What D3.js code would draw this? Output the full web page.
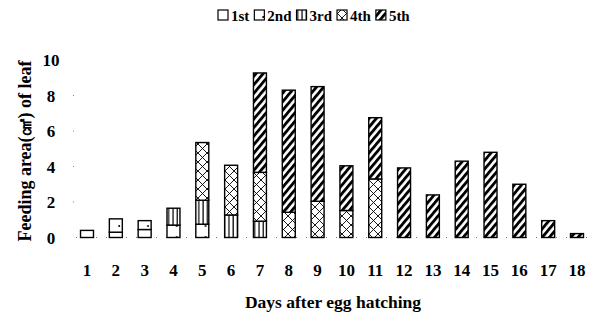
<!DOCTYPE html>
<html lang="en">
<head>
<meta charset="UTF-8" />
<script src="https://d3js.org/d3.v7.min.js"></script>
<title>Feeding area</title>
<style>
  body { margin: 0; background: #fff; }
  text { font-family: "Liberation Serif", "Times New Roman", serif; font-weight: bold; fill: #000; }
</style>
</head>
<body>
<svg id="chart" width="594" height="318"></svg>
<script>
// days after hatching and leaf area eaten by each instar (cm2)
var days = ["1","2","3","4","5","6","7","8","9","10","11","12","13","14","15","16","17","18"];
var first  = [0.4, 0.3, 0.45, 0, 0, 0, 0, 0, 0, 0, 0, 0, 0, 0, 0, 0, 0, 0];
var second = [0, 0.75, 0.5, 0.7, 0.75, 0, 0, 0, 0, 0, 0, 0, 0, 0, 0, 0, 0, 0];
var third  = [0, 0, 0, 0.95, 1.35, 1.27, 0.92, 0, 0, 0, 0, 0, 0, 0, 0, 0, 0, 0];
var fourth = [0, 0, 0, 0, 3.25, 2.8, 2.75, 1.42, 2.04, 1.52, 3.3, 0, 0, 0, 0, 0, 0, 0];
var fifth  = [0, 0, 0, 0, 0, 0, 5.6, 6.88, 6.46, 2.52, 3.45, 3.92, 2.4, 4.3, 4.8, 3.0, 0.95, 0.22];
var instars = ["1st", "2nd", "3rd", "4th", "5th"];
var yTicks = [0, 2, 4, 6, 8, 10];

var svg = d3.select("#chart");
var defs = svg.append("defs");

// fill patterns, one per instar
var p2 = defs.append("pattern").attr("id", "pat2nd").attr("patternUnits", "userSpaceOnUse")
  .attr("width", 14.4).attr("height", 11);
p2.append("rect").attr("width", 14.4).attr("height", 11).attr("fill", "#fff");
p2.append("circle").attr("cx", 4).attr("cy", 6).attr("r", 1).attr("fill", "#000");

var p3 = defs.append("pattern").attr("id", "pat3rd").attr("patternUnits", "userSpaceOnUse")
  .attr("width", 4.3).attr("height", 10);
p3.append("rect").attr("width", 4.3).attr("height", 10).attr("fill", "#fff");
p3.append("line").attr("x1", 1).attr("x2", 1).attr("y1", 0).attr("y2", 10)
  .attr("stroke", "#000").attr("stroke-width", 1.2);

var p4 = defs.append("pattern").attr("id", "pat4th").attr("patternUnits", "userSpaceOnUse")
  .attr("width", 9).attr("height", 9);
p4.append("rect").attr("width", 9).attr("height", 9).attr("fill", "#fff");
p4.append("path").attr("d", "M0,0L9,9M9,0L0,9").attr("stroke", "#000").attr("stroke-width", 0.9);

var p5 = defs.append("pattern").attr("id", "pat5th").attr("patternUnits", "userSpaceOnUse")
  .attr("width", 5.5).attr("height", 10).attr("patternTransform", "rotate(40)");
p5.append("rect").attr("width", 5.5).attr("height", 10).attr("fill", "#fff");
p5.append("line").attr("x1", 1.4).attr("x2", 1.4).attr("y1", 0).attr("y2", 10)
  .attr("stroke", "#000").attr("stroke-width", 2.9);

var fills = { "1st": "#fff", "2nd": "url(#pat2nd)", "3rd": "url(#pat3rd)", "4th": "url(#pat4th)", "5th": "url(#pat5th)" };

var table = days.map(function(d, i) {
  return { day: d, "1st": first[i], "2nd": second[i], "3rd": third[i], "4th": fourth[i], "5th": fifth[i] };
});

var x = d3.scaleBand().domain(days).range([72.6, 591.4]).paddingInner(0.55).paddingOuter(0.275);
var y = d3.scaleLinear().domain([0, 10]).range([237.5, 60]);

var stack = d3.stack().keys(instars)(table);

// dotted baseline
svg.append("line").attr("x1", 76).attr("x2", 592).attr("y1", y(0)).attr("y2", y(0))
  .attr("stroke", "#777").attr("stroke-width", 1).attr("stroke-dasharray", "1,9");

// y ticks (tiny dots) and labels
svg.append("g").selectAll("rect").data(yTicks.filter(function(t){ return t > 0 && t < 10; }))
  .enter().append("rect")
  .attr("x", 73).attr("y", function(t){ return y(t) - 0.5; })
  .attr("width", 1).attr("height", 1).attr("fill", "#888");

svg.append("g").selectAll("text").data(yTicks).enter().append("text")
  .attr("x", 51).attr("y", function(t){ return y(t) + 6; })
  .attr("text-anchor", "middle").style("font-size", "17px")
  .text(function(t){ return t; });

// stacked bars
svg.append("g").selectAll("g").data(stack).enter().append("g")
  .attr("fill", function(s){ return fills[s.key]; })
  .selectAll("rect")
  .data(function(s){ return s.filter(function(p){ return p[1] - p[0] > 0; }); })
  .enter().append("rect")
  .attr("x", function(p){ return x(p.data.day); })
  .attr("y", function(p){ return y(p[1]); })
  .attr("width", x.bandwidth())
  .attr("height", function(p){ return y(p[0]) - y(p[1]); })
  .attr("stroke", "#000").attr("stroke-width", 1.4);

// x labels
svg.append("g").selectAll("text").data(days).enter().append("text")
  .attr("x", function(d){ return x(d) + x.bandwidth() / 2; })
  .attr("y", 276).attr("text-anchor", "middle").style("font-size", "17px")
  .text(function(d){ return d; });

// axis titles
svg.append("text").attr("x", 333).attr("y", 308).attr("text-anchor", "middle")
  .style("font-size", "17.5px").text("Days after egg hatching");

svg.append("text").attr("transform", "translate(31,151) rotate(-90)")
  .attr("text-anchor", "middle").style("font-size", "18px")
  .text("Feeding area(㎠) of leaf");

// legend
var lg = svg.append("g");
var lx = 218;
instars.forEach(function(k) {
  lg.append("rect").attr("x", lx).attr("y", 10).attr("width", 10).attr("height", 10)
    .attr("fill", fills[k]).attr("stroke", "#000").attr("stroke-width", 1.2);
  var t = lg.append("text").attr("x", lx + 13).attr("y", 20.5).style("font-size", "15px").text(k);
  lx += 13 + t.node().getComputedTextLength() + 5;
});
</script>
</body>
</html>
